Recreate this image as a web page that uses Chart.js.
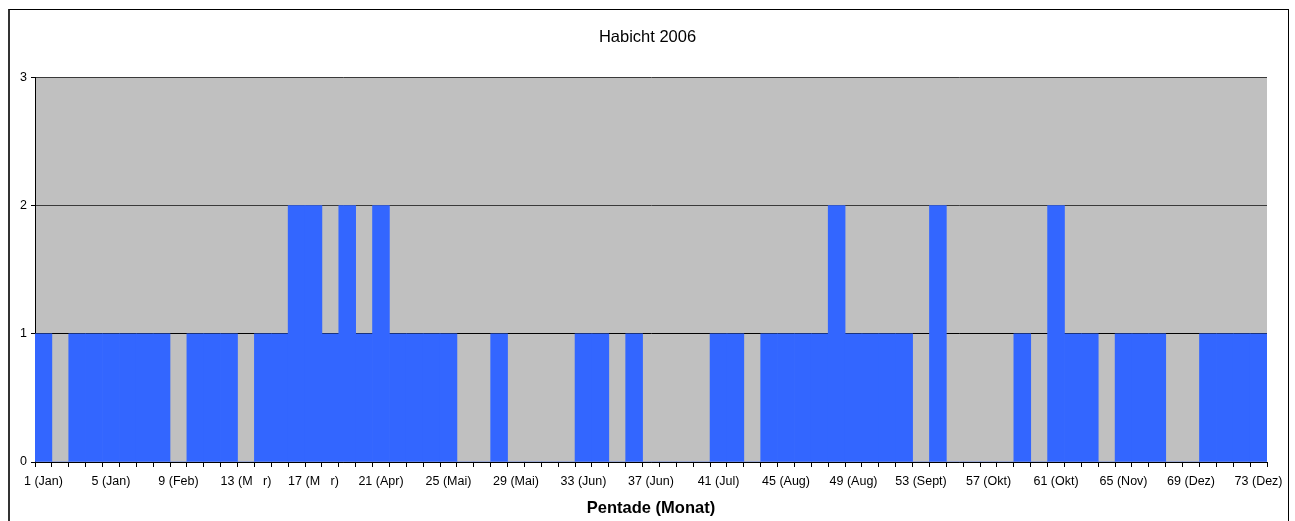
<!DOCTYPE html>
<html>
<head>
<meta charset="utf-8">
<script src="https://cdn.jsdelivr.net/npm/chart.js@4/dist/chart.umd.min.js"></script>
<style>
  body { margin: 0; background: #fff; overflow: hidden; }
  #wrap { position: absolute; left: 0; top: 0; width: 1295px; height: 521px; }
  #frame { position: absolute; left: 8px; top: 9px; width: 1278px; height: 600px;
           border-top: 1px solid #000; border-right: 1px solid #000; border-left: 2px solid #333;
           pointer-events: none; }
</style>
</head>
<body>
<div id="wrap"><canvas id="chart" width="1295" height="521"></canvas></div>
<div id="frame"></div>
<script>
// Pentaden 1..73
var pentaden = [1,2,3,4,5,6,7,8,9,10,11,12,13,14,15,16,17,18,19,20,21,22,23,24,25,26,27,28,29,30,
  31,32,33,34,35,36,37,38,39,40,41,42,43,44,45,46,47,48,49,50,51,52,53,54,55,56,57,58,59,60,
  61,62,63,64,65,66,67,68,69,70,71,72,73];
// Anzahl Beobachtungen je Pentade
var anzahl = [1,0,1,1,1,1,1,1,0,1,1,1,0,1,1,2,2,1,2,1,2,1,1,1,1,0,0,1,0,0,
  0,0,1,1,0,1,0,0,0,0,1,1,0,1,1,1,1,2,1,1,1,1,0,2,0,0,0,0,1,0,
  2,1,1,0,1,1,1,0,0,1,1,1,1];
// Beschriftung jeder 4. Pentade
var tickLabels = ['1 (Jan)','5 (Jan)','9 (Feb)','13 (M   r)','17 (M   r)','21 (Apr)','25 (Mai)',
  '29 (Mai)','33 (Jun)','37 (Jun)','41 (Jul)','45 (Aug)','49 (Aug)','53 (Sept)','57 (Okt)',
  '61 (Okt)','65 (Nov)','69 (Dez)','73 (Dez)'];

var FONT = 'Arial, "Liberation Sans", sans-serif';

var plotBg = {
	id: 'plotBg',
	beforeDraw: function(chart) {
		var a = chart.chartArea, ctx = chart.ctx;
		ctx.save();
		ctx.fillStyle = '#C0C0C0';
		ctx.fillRect(a.left, a.top, a.right - a.left, a.bottom - a.top);
		ctx.restore();
	}
};

var config = {
	type: 'bar',
	data: {
		labels: pentaden,
		datasets: [{
			label: 'Habicht 2006',
			data: anzahl,
			backgroundColor: '#3366FF',
			borderWidth: 0,
			categoryPercentage: 1.0,
			barPercentage: 1.0
		}]
	},
	options: {
		responsive: false,
		animation: false,
		layout: { padding: 0 },
		plugins: {
			legend: { display: false },
			tooltip: { enabled: false },
			title: {
				display: true,
				text: 'Habicht 2006',
				color: '#000',
				font: { family: FONT, size: 16.5, weight: 'normal' },
				padding: { top: 28, bottom: 29.5 }
			}
		},
		scales: {
			x: {
				offset: true,
				grid: { offset: true, drawOnChartArea: false, tickLength: 5, tickColor: '#000' },
				border: { color: '#000', width: 1 },
				ticks: {
					autoSkip: false,
					maxRotation: 0,
					padding: 7,
					color: '#000',
					font: { family: FONT, size: 12.5 },
					callback: function(v, i) { return i % 4 === 0 ? tickLabels[i / 4] : ''; }
				},
				title: {
					display: true,
					text: 'Pentade (Monat)',
					color: '#000',
					font: { family: FONT, size: 16.5, weight: 'bold' },
					padding: { top: 0, bottom: 3 }
				},
				afterFit: function(s) { s.height = 59; }
			},
			y: {
				min: 0,
				max: 3,
				grid: {
					color: function(c) { return c.tick.value === 1 ? '#000' : '#3a3a3a'; },
					tickLength: 4,
					tickColor: '#000'
				},
				border: { color: '#000', width: 1 },
				ticks: {
					stepSize: 1,
					padding: 4,
					color: '#000',
					font: { family: FONT, size: 12.5 }
				},
				afterFit: function(s) { s.width = 35; }
			},
			// leerer Rand rechts
			yRight: {
				position: 'right',
				min: 0,
				max: 3,
				grid: { display: false, drawOnChartArea: false },
				border: { display: false },
				ticks: { display: false },
				afterFit: function(s) { s.width = 28; }
			}
		}
	},
	plugins: [plotBg]
};

var ctx = document.getElementById('chart').getContext('2d');
window.myBar = new Chart(ctx, config);
</script>
</body>
</html>
